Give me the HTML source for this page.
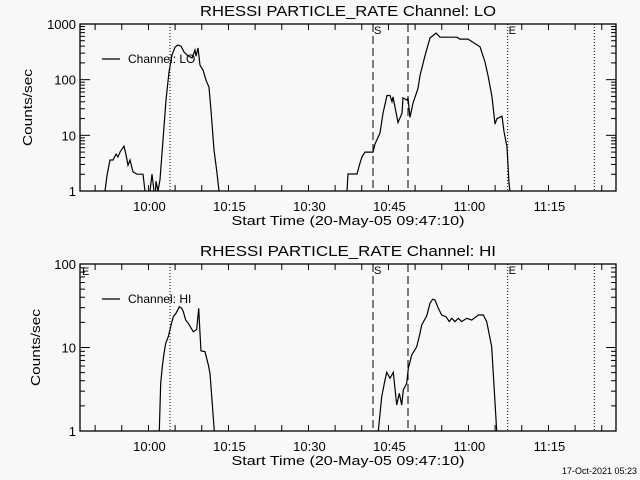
<!DOCTYPE html>
<html><head><meta charset="utf-8"><style>
html,body{margin:0;padding:0;background:#f8f8f8;}
svg{display:block;font-family:"Liberation Sans",sans-serif;}
</style></head><body>
<svg id="c" width="640" height="480" viewBox="0 0 640 480"></svg>
<script>
const loTimes=[4.5,4.69,5.06,5.63,6.19,6.75,7.13,7.5,8.25,8.63,9.0,9.38,9.94,10.69,11.81,12.19,12.4,13.0,13.13,13.5,13.88,14.0,14.25,14.63,15.0,15.56,16.13,16.69,17.25,17.81,18.38,18.94,19.5,20.06,21.0,21.56,21.75,22.13,22.5,23.06,23.63,24.19,24.56,25.13,25.69,26.06,26.3,
49.9,50.06,50.25,51.94,52.5,52.88,53.44,54.94,55.31,56.25,56.81,57.56,58.13,58.5,58.69,59.63,60.38,60.56,61.31,61.5,61.88,62.44,63.38,63.75,64.69,65.63,66.75,67.5,68.44,70.69,71.25,72.75,75.0,75.94,76.5,77.25,77.81,78.19,79.13,79.5,80.06,80.25,80.44,80.63,80.8];
const loValues=[0.5,1,1.9,3.6,3.6,4.6,4.1,5,6.4,4.5,2.9,3.6,2.2,2,2,1,0.5,0.5,1,2,1,0.5,1.5,1,1.6,8.2,43,137,277,385,419,400,314,277,245,340,264,370,182,149,98,73,28,5.5,2.1,1,0.5,
0.5,1,2.02,2.02,3.18,4.1,5,5,7,11,25,52,52,40,49,17,25,47,43,47,21,38,70,119,270,560,685,580,580,580,535,535,390,208,119,49,16,20,22,11.6,6.2,2.9,1.4,1,0.5];
const hiTimes=[14.8,14.87,15.13,15.43,15.75,16.07,16.56,17.0,17.49,18.0,18.62,19.07,19.37,19.82,20.31,21.24,21.88,22.26,22.5,22.69,23.44,24.06,24.38,25.18,25.3,
55.8,55.93,56.57,57.19,57.5,58.13,58.74,59.38,59.87,60.32,60.62,61.26,61.56,62.19,63.13,63.75,64.07,65.01,65.63,66.13,66.56,67.18,67.82,68.63,69.24,69.69,70.31,70.93,71.57,72.51,73.44,74.68,75.62,76.26,77.19,78.13,78.3];
const hiValues=[0.5,1,3.73,5.9,8.5,11.2,13.5,17.8,23.4,25.7,30.8,29.5,26.9,21.3,19.5,15.4,16.5,29.5,14.8,9.1,8.9,6.2,4.9,1,0.5,
0.5,1,2.57,4.08,5.05,4.28,5.05,2.05,2.83,2.05,3.1,3.73,5.63,8.1,10.2,14.8,18.6,23.9,33.8,37.9,37.1,29.5,24.5,23.4,20.4,22.4,20.4,22.4,20.4,22.4,21.3,24.5,24.5,20.4,10.2,1,0.5];
const xTickLabels=["10:00","10:15","10:30","10:45","11:00","11:15"];
const xTickMinutes=[12.833,27.833,42.833,57.833,72.833,87.833];
const dashedTimes=[54.94,61.5];
const dottedTimes=[16.88,80.19,96.43];

const NS="http://www.w3.org/2000/svg";
const svg=document.getElementById('c');
function mk(tag,attrs,parent,text){const e=document.createElementNS(NS,tag);for(const k in attrs)e.setAttribute(k,attrs[k]);if(text!==undefined)e.textContent=text;(parent||svg).appendChild(e);return e;}
const X0=80,X1=616,PXM=5.3333;
function xs(t){return X0+t*PXM;}

function panel(o){
  const g=mk('g',{});
  
  
  const top=o.top,bot=o.bot,dec=(bot-top)/o.decades;
  const ys=v=>bot-Math.log10(v)*dec;
  const clipId='clip-'+o.name;
  const cp=mk('clipPath',{id:clipId},g);mk('rect',{x:X0,y:top,width:X1-X0,height:bot-top},cp);
  // title
  const ti=mk('text',{x:348,y:top-8,'text-anchor':'middle','font-size':15,textLength:296,lengthAdjust:'spacingAndGlyphs',fill:'#000'},g,o.title);
  
  
  // frame
  const fr=mk('rect',{x:X0,y:top,width:X1-X0,height:bot-top,fill:'none',stroke:'#000','stroke-width':1.3},g);
  
  
  // y ticks
  for(let d=0;d<=o.decades;d++){
    for(let m=1;m<=9;m++){
      if(d===o.decades&&m>1)break;
      const v=Math.pow(10,d)*m,y=ys(v),L=m===1?10:5;
      mk('line',{x1:X0,x2:X0+L,y1:y,y2:y,stroke:'#000','stroke-width':1},g);
      mk('line',{x1:X1,x2:X1-L,y1:y,y2:y,stroke:'#000','stroke-width':1},g);
    }
    const lab=mk('text',{x:76,y:ys(Math.pow(10,d))+5,'text-anchor':'end','font-size':13,fill:'#000'},g,String(Math.pow(10,d)));
    
    
  }
  // x ticks every 5 min
  for(let t=xTickMinutes[0]-10;t<100.6;t+=5){
    const x=xs(t);if(x<X0||x>X1)continue;
    mk('line',{x1:x,x2:x,y1:bot,y2:bot-6,stroke:'#000','stroke-width':1},g);
    mk('line',{x1:x,x2:x,y1:top,y2:top+6,stroke:'#000','stroke-width':1},g);
  }
  xTickLabels.forEach((s,i)=>{
    const l=mk('text',{x:xs(xTickMinutes[i])+1,y:bot+20,'text-anchor':'middle','font-size':13,fill:'#000'},g,s);
    
    
  });
  const xt=mk('text',{x:348,y:bot+34,'text-anchor':'middle','font-size':13,textLength:233,lengthAdjust:'spacingAndGlyphs',fill:'#000'},g,'Start Time (20-May-05 09:47:10)');
  
  
  const yt=mk('text',{x:0,y:0,'text-anchor':'middle','font-size':13,transform:`translate(${o.ytx},${(top+bot)/2}) rotate(-90)`,textLength:77,lengthAdjust:'spacingAndGlyphs',fill:'#000'},g,'Counts/sec');
  
  
  // vertical markers
  dashedTimes.forEach(t=>{const l=mk('line',{x1:xs(t),x2:xs(t),y1:top,y2:bot,stroke:'#000','stroke-dasharray':'8,4'},g);
    
    });
  dottedTimes.forEach(t=>{const l=mk('line',{x1:xs(t),x2:xs(t),y1:top,y2:bot,stroke:'#000','stroke-dasharray':'1,2'},g);
    
    });
  mk('text',{x:xs(dashedTimes[0])+1,y:top+10,'font-size':11,fill:'#000'},g,'S');
  mk('text',{x:xs(dottedTimes[1])+1,y:top+10,'font-size':11,fill:'#000'},g,'E');
  if(o.leftE) mk('text',{x:X0+2,y:top+11,'font-size':11,fill:'#000'},g,'E');
  // series
  let d='';
  o.times.forEach((t,i)=>{d+=(i?'L':'M')+xs(t).toFixed(1)+','+ys(o.values[i]).toFixed(1);});
  const p=mk('path',{d:d,fill:'none',stroke:'#000','stroke-width':1.2,'clip-path':`url(#${clipId})`},g);
  
  
  // legend
  const lg=mk('g',{},g);
  
  
  mk('line',{x1:102,x2:120,y1:o.legY,y2:o.legY,stroke:'#000','stroke-width':1.2},lg);
  mk('text',{x:128,y:o.legY+4,'font-size':12,fill:'#000'},lg,o.legend);
}
panel({name:'lo',top:24,bot:191,decades:3,title:'RHESSI PARTICLE_RATE Channel: LO',times:loTimes,values:loValues,legY:59,legend:'Channel: LO',ytx:32,leftE:false});
panel({name:'hi',top:264,bot:431,decades:2,title:'RHESSI PARTICLE_RATE Channel: HI',times:hiTimes,values:hiValues,legY:299,legend:'Channel: HI',ytx:40,leftE:true});
const ts=mk('text',{x:637,y:474,'text-anchor':'end','font-size':9,fill:'#000'},svg,'17-Oct-2021 05:23');


</script>
</body></html>
